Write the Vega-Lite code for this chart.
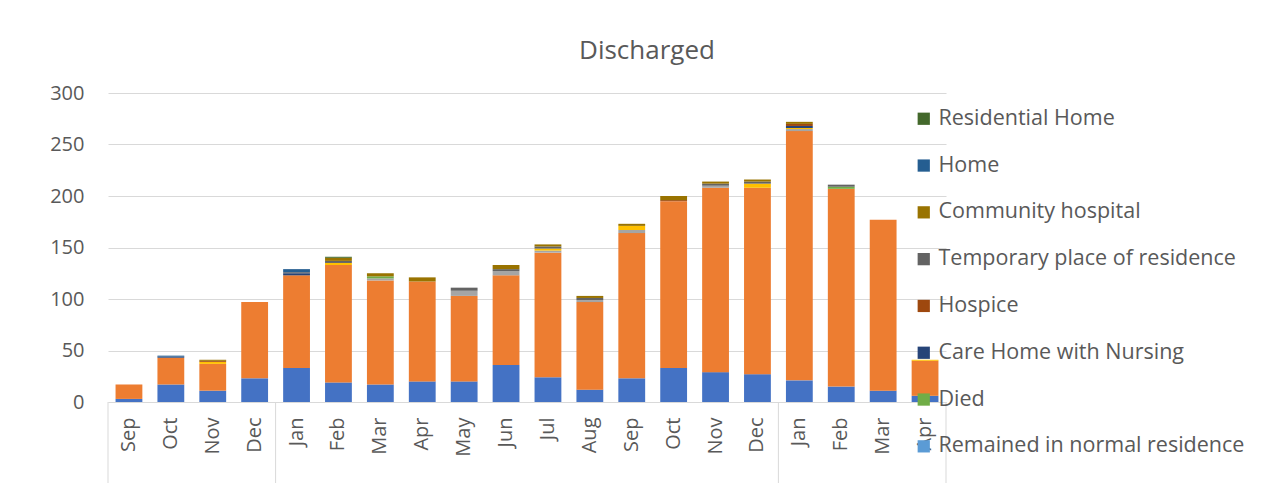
{
  "$schema": "https://vega.github.io/schema/vega-lite/v6.json",
  "autosize": {"type": "none"},
  "width": 838,
  "height": 309,
  "padding": {"left": 108, "top": 93, "right": 341, "bottom": 81},
  "background": "white",
  "config": {
    "font": "Open Sans",
    "view": {"stroke": null},
    "axis": {"labelFont": "Open Sans", "labelColor": "#595959", "labelFontSize": 20, "gridColor": "#D9D9D9", "domainColor": "#D9D9D9", "tickColor": "#D9D9D9"}
  },
  "title": {"text": "Discharged", "font": "Open Sans", "fontSize": 26, "fontWeight": "normal", "color": "#595959", "anchor": "middle", "dx": 120, "offset": 19},
  "datasets": {
    "bars": [
      {"m": "Sep-1", "s": "Other discharge A", "v": 3}, {"m": "Sep-1", "s": "Other discharge B", "v": 14},
      {"m": "Oct-1", "s": "Other discharge A", "v": 17}, {"m": "Oct-1", "s": "Other discharge B", "v": 26}, {"m": "Oct-1", "s": "Care Home with Nursing", "v": 1}, {"m": "Oct-1", "s": "Home", "v": 1},
      {"m": "Nov-1", "s": "Other discharge A", "v": 11}, {"m": "Nov-1", "s": "Other discharge B", "v": 26}, {"m": "Nov-1", "s": "Other discharge D", "v": 2}, {"m": "Nov-1", "s": "Hospice", "v": 1}, {"m": "Nov-1", "s": "Community hospital", "v": 1},
      {"m": "Dec-1", "s": "Other discharge A", "v": 23}, {"m": "Dec-1", "s": "Other discharge B", "v": 74},
      {"m": "Jan-2", "s": "Other discharge A", "v": 33}, {"m": "Jan-2", "s": "Other discharge B", "v": 90}, {"m": "Jan-2", "s": "Care Home with Nursing", "v": 2}, {"m": "Jan-2", "s": "Temporary place of residence", "v": 1}, {"m": "Jan-2", "s": "Home", "v": 3},
      {"m": "Feb-2", "s": "Other discharge A", "v": 19}, {"m": "Feb-2", "s": "Other discharge B", "v": 114}, {"m": "Feb-2", "s": "Other discharge D", "v": 2}, {"m": "Feb-2", "s": "Temporary place of residence", "v": 2}, {"m": "Feb-2", "s": "Community hospital", "v": 3}, {"m": "Feb-2", "s": "Residential Home", "v": 1},
      {"m": "Mar-2", "s": "Other discharge A", "v": 17}, {"m": "Mar-2", "s": "Other discharge B", "v": 101}, {"m": "Mar-2", "s": "Other discharge C", "v": 2}, {"m": "Mar-2", "s": "Died", "v": 2}, {"m": "Mar-2", "s": "Community hospital", "v": 3},
      {"m": "Apr-2", "s": "Other discharge A", "v": 20}, {"m": "Apr-2", "s": "Other discharge B", "v": 97}, {"m": "Apr-2", "s": "Community hospital", "v": 4},
      {"m": "May-2", "s": "Other discharge A", "v": 20}, {"m": "May-2", "s": "Other discharge B", "v": 83}, {"m": "May-2", "s": "Other discharge C", "v": 5}, {"m": "May-2", "s": "Temporary place of residence", "v": 3},
      {"m": "Jun-2", "s": "Other discharge A", "v": 36}, {"m": "Jun-2", "s": "Other discharge B", "v": 87}, {"m": "Jun-2", "s": "Other discharge C", "v": 4}, {"m": "Jun-2", "s": "Temporary place of residence", "v": 2}, {"m": "Jun-2", "s": "Community hospital", "v": 4},
      {"m": "Jul-2", "s": "Other discharge A", "v": 24}, {"m": "Jul-2", "s": "Other discharge B", "v": 121}, {"m": "Jul-2", "s": "Other discharge C", "v": 2}, {"m": "Jul-2", "s": "Other discharge D", "v": 2}, {"m": "Jul-2", "s": "Temporary place of residence", "v": 2}, {"m": "Jul-2", "s": "Community hospital", "v": 2},
      {"m": "Aug-2", "s": "Other discharge A", "v": 12}, {"m": "Aug-2", "s": "Other discharge B", "v": 85}, {"m": "Aug-2", "s": "Other discharge C", "v": 2}, {"m": "Aug-2", "s": "Temporary place of residence", "v": 2}, {"m": "Aug-2", "s": "Community hospital", "v": 2},
      {"m": "Sep-2", "s": "Other discharge A", "v": 23}, {"m": "Sep-2", "s": "Other discharge B", "v": 141}, {"m": "Sep-2", "s": "Other discharge C", "v": 3}, {"m": "Sep-2", "s": "Other discharge D", "v": 4}, {"m": "Sep-2", "s": "Community hospital", "v": 2},
      {"m": "Oct-2", "s": "Other discharge A", "v": 33}, {"m": "Oct-2", "s": "Other discharge B", "v": 162}, {"m": "Oct-2", "s": "Hospice", "v": 1}, {"m": "Oct-2", "s": "Community hospital", "v": 4},
      {"m": "Nov-2", "s": "Other discharge A", "v": 29}, {"m": "Nov-2", "s": "Other discharge B", "v": 179}, {"m": "Nov-2", "s": "Other discharge C", "v": 2}, {"m": "Nov-2", "s": "Temporary place of residence", "v": 2}, {"m": "Nov-2", "s": "Community hospital", "v": 2},
      {"m": "Dec-2", "s": "Other discharge A", "v": 27}, {"m": "Dec-2", "s": "Other discharge B", "v": 181}, {"m": "Dec-2", "s": "Other discharge D", "v": 4}, {"m": "Dec-2", "s": "Temporary place of residence", "v": 2}, {"m": "Dec-2", "s": "Community hospital", "v": 2},
      {"m": "Jan-3", "s": "Other discharge A", "v": 21}, {"m": "Jan-3", "s": "Other discharge B", "v": 242}, {"m": "Jan-3", "s": "Other discharge C", "v": 2}, {"m": "Jan-3", "s": "Other discharge D", "v": 1}, {"m": "Jan-3", "s": "Care Home with Nursing", "v": 2}, {"m": "Jan-3", "s": "Hospice", "v": 2}, {"m": "Jan-3", "s": "Community hospital", "v": 2},
      {"m": "Feb-3", "s": "Other discharge A", "v": 15}, {"m": "Feb-3", "s": "Other discharge B", "v": 192}, {"m": "Feb-3", "s": "Died", "v": 2}, {"m": "Feb-3", "s": "Temporary place of residence", "v": 2},
      {"m": "Mar-3", "s": "Other discharge A", "v": 11}, {"m": "Mar-3", "s": "Other discharge B", "v": 166},
      {"m": "Apr-3", "s": "Other discharge A", "v": 6}, {"m": "Apr-3", "s": "Other discharge B", "v": 34}, {"m": "Apr-3", "s": "Other discharge D", "v": 1}
    ],
    "seps": [{"m": "Sep-1"}, {"m": "Jan-2"}, {"m": "Jan-3"}],
    "sepEnd": [{"m": "Apr-3"}]
  },
  "encoding": {
    "x": {
      "field": "m", "type": "nominal",
      "scale": {"domain": ["Sep-1","Oct-1","Nov-1","Dec-1","Jan-2","Feb-2","Mar-2","Apr-2","May-2","Jun-2","Jul-2","Aug-2","Sep-2","Oct-2","Nov-2","Dec-2","Jan-3","Feb-3","Mar-3","Apr-3"], "paddingInner": 0, "paddingOuter": 0},
      "axis": {"title": null, "labelExpr": "split(datum.value, '-')[0]", "labelAngle": 270, "labelPadding": 15, "ticks": false, "domain": true, "domainColor": "#D9D9D9"}
    }
  },
  "layer": [
    {
      "data": {"name": "bars"},
      "transform": [
        {"calculate": "indexof(['Other discharge A','Other discharge B','Other discharge C','Other discharge D','Remained in normal residence','Died','Care Home with Nursing','Hospice','Temporary place of residence','Community hospital','Home','Residential Home'], datum.s)", "as": "k"}
      ],
      "mark": {"type": "bar", "width": {"band": 0.64}},
      "encoding": {
        "y": {"field": "v", "type": "quantitative", "stack": "zero",
          "scale": {"domain": [0, 300], "nice": false},
          "axis": {"title": null, "values": [0, 50, 100, 150, 200, 250, 300], "ticks": false, "domain": false, "labelPadding": 24, "grid": true}},
        "order": {"field": "k", "type": "quantitative", "sort": "ascending"},
        "color": {
          "field": "s", "type": "nominal",
          "scale": {
            "domain": ["Other discharge A","Other discharge B","Other discharge C","Other discharge D","Remained in normal residence","Died","Care Home with Nursing","Hospice","Temporary place of residence","Community hospital","Home","Residential Home"],
            "range": ["#4472C4","#ED7D31","#A5A5A5","#FFC000","#5B9BD5","#70AD47","#264478","#9E480E","#636363","#997300","#255E91","#43682B"]
          },
          "legend": {
            "title": null,
            "orient": "none",
            "legendX": 805,
            "legendY": 15,
            "values": ["Residential Home","Home","Community hospital","Temporary place of residence","Hospice","Care Home with Nursing","Died","Remained in normal residence"],
            "symbolType": "square",
            "symbolSize": 150,
            "symbolStrokeWidth": 0,
            "labelFont": "Open Sans",
            "labelFontSize": 21.5,
            "labelColor": "#595959",
            "labelLimit": 500,
            "labelOffset": 4,
            "rowPadding": 23.8
          }
        }
      }
    },
    {
      "data": {"name": "seps"},
      "mark": {"type": "rule", "color": "#D9D9D9", "strokeWidth": 1},
      "encoding": {
        "x": {"field": "m", "type": "nominal", "bandPosition": 0},
        "y": {"datum": 0},
        "y2": {"datum": -80}
      }
    },
    {
      "data": {"name": "sepEnd"},
      "mark": {"type": "rule", "color": "#D9D9D9", "strokeWidth": 1},
      "encoding": {
        "x": {"field": "m", "type": "nominal", "bandPosition": 1},
        "y": {"datum": 0},
        "y2": {"datum": -80}
      }
    }
  ]
}
